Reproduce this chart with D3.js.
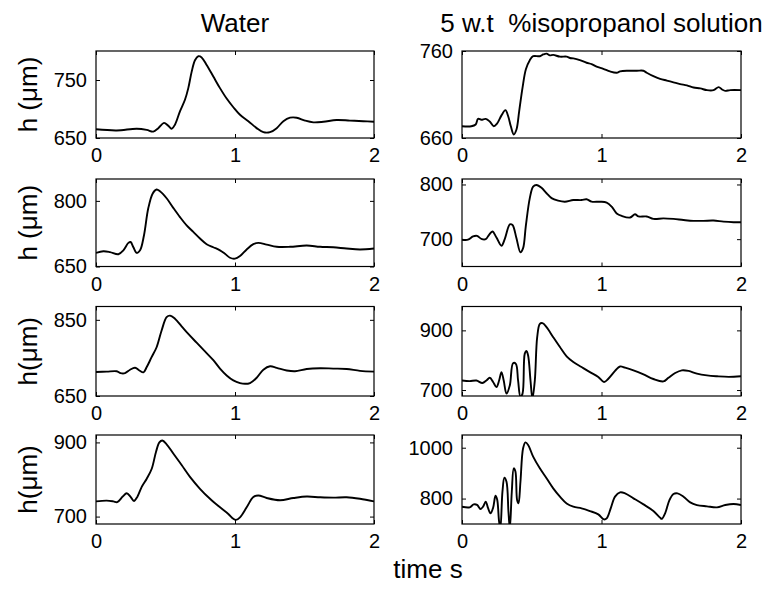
<!DOCTYPE html>
<html>
<head>
<meta charset="utf-8">
<script src="https://cdn.jsdelivr.net/npm/d3@7"></script>
<style>
  html, body { margin: 0; padding: 0; background: #fff; }
  text { font-family: "Liberation Sans", Arial, sans-serif; fill: #000; }
</style>
</head>
<body>
<svg id="chart" width="770" height="591"></svg>
<script>
// ---------- DATA ----------
const columnTitles = ["Water", "5 w.t  %isopropanol solution"];
const yLabels = ["h (\u03bcm)", "h (\u03bcm)", "h(\u03bcm)", "h(\u03bcm)"];
const xLabel = "time s";
const xTicks = [0, 1, 2];

// Water column
const tW1 = [0,.149,.293,.365,.412,.448,.489,.52,.544,.568,.604,.64,.664,.688,.712,.736,.76,.796,.844,.892,.94,.988,1.036,1.096,1.156,1.204,1.252,1.3,1.348,1.396,1.444,1.504,1.564,1.636,1.731,1.827,1.923,2.0];
const hW1 = [665,663,666,664,661,667,676,671,666,673,696,716,736,764,784,791,789,776,756,736,718,703,690,679,667,660,660,667,679,685,685,680,677,678,681,680,679,678];
const tW2 = [0,.053,.101,.161,.197,.233,.249,.269,.293,.317,.345,.376,.408,.436,.46,.508,.556,.604,.652,.7,.748,.796,.844,.892,.928,.964,1.0,1.036,1.084,1.132,1.168,1.228,1.3,1.396,1.516,1.612,1.707,1.803,1.899,2.0];
const hW2 = [681,685,683,678,687,704,706,694,681,687,721,783,817,826,822,806,784,763,744,729,714,701,694,687,679,670,668,674,689,701,704,700,695,695,698,695,694,691,689,691];
const tW3 = [0,.077,.149,.177,.209,.245,.281,.312,.341,.365,.4,.436,.472,.508,.532,.568,.616,.664,.724,.784,.844,.892,.94,.988,1.036,1.072,1.108,1.156,1.204,1.252,1.3,1.372,1.432,1.516,1.612,1.707,1.803,1.899,2.0];
const hW3 = [713,714,715,710,710,719,724,717,712,726,752,778,822,857,861,853,833,813,790,767,744,722,704,691,684,682,684,698,719,728,724,717,715,721,723,722,721,716,714];
const tW4 = [0,.077,.125,.153,.192,.221,.249,.273,.297,.329,.365,.401,.432,.456,.477,.508,.556,.616,.676,.748,.82,.892,.952,.988,1.007,1.036,1.084,1.132,1.168,1.228,1.324,1.42,1.516,1.612,1.707,1.803,1.899,2.0];
const hW4 = [741,743,741,739,754,763,753,742,753,780,802,829,875,900,905,895,870,839,807,775,748,725,707,694,691,698,725,753,757,750,744,750,754,752,751,752,748,741];

// Isopropanol column
const tI1 = [0,.067,.098,.115,.139,.17,.199,.228,.251,.283,.311,.331,.35,.371,.39,.41,.434,.458,.486,.51,.558,.582,.606,.63,.654,.702,.75,.774,.798,.845,.893,.929,.965,1.013,1.061,1.109,1.133,1.181,1.253,1.3,1.324,1.372,1.42,1.468,1.516,1.564,1.612,1.66,1.708,1.756,1.803,1.84,1.864,1.887,1.923,2.0];
const hI1 = [673.5,673.5,675.5,682,681,682,679,673.5,676.5,686,692,685,673.5,664,669.5,691,718,739,749.5,754,754,756,757,755,755.5,753.5,753.5,752,751.5,749.5,746.5,745,742,739.5,736.5,735,736.5,737.3,737.3,737.3,735,731,728,726,724,722,720.5,718,717,715,715,718.5,715.8,714.2,715,715];
const tI2 = [0,.043,.079,.108,.139,.17,.194,.218,.247,.283,.307,.343,.362,.39,.419,.438,.457,.486,.51,.534,.57,.606,.642,.689,.737,.798,.857,.893,.929,.989,1.037,1.073,1.109,1.145,1.205,1.24,1.265,1.324,1.372,1.444,1.516,1.588,1.659,1.731,1.803,1.875,1.947,2.0];
const hI2 = [699,699,705,706,700.5,700,708,714,703,688,700.5,727,726,702,676,683.5,723,775,796,799,794,784,775,770.5,768.5,771.5,771.5,773,768.5,768.5,767,759.5,747,742.5,739.5,745.5,741.5,741.5,737,738,737,735,733.5,733.5,734,732,731,731];
const tI3 = [0,.055,.103,.146,.175,.199,.223,.247,.266,.283,.299,.319,.343,.366,.386,.402,.419,.434,.45,.462,.474,.491,.505,.522,.539,.558,.577,.606,.654,.702,.75,.798,.857,.917,.977,1.018,1.049,1.097,1.133,1.169,1.229,1.301,1.372,1.444,1.48,1.528,1.576,1.624,1.684,1.756,1.828,1.912,2.0];
const hI3 = [732,730,732,723.5,732,741,727,710,732,760,732,688,716,790,788,732,677,688,822,831,816,732,671,732,877,922,924,911,877,844,813,794,777,760,744,727,738,764,779,775,766,752.5,737,729,741,757,766,764,755,749,746,744,746];
const tI4 = [0,.055,.084,.108,.132,.151,.17,.187,.204,.223,.24,.252,.266,.275,.29,.304,.319,.333,.343,.357,.371,.383,.395,.405,.419,.438,.455,.474,.51,.558,.606,.654,.702,.75,.798,.857,.917,.977,1.018,1.037,1.066,1.097,1.133,1.169,1.229,1.301,1.372,1.42,1.432,1.456,1.487,1.516,1.545,1.588,1.636,1.684,1.756,1.828,1.887,1.947,2.0];
const hI4 = [768,765.5,777,775,759,768,788,762,742,764,811,796,709,683,827,882,866,748,683,827,919,906,794,781,866,998,1021,1011,965,919,880,840,807.5,781,768,761.5,751,738,718,722,761.5,807.5,824.5,820.5,801,777,751,725,720,742,794,818,820.5,807.5,785,774.5,769.5,765.5,774.5,778.5,774.5];

const tSeries = [[tW1, tI1], [tW2, tI2], [tW3, tI3], [tW4, tI4]];
const hSeries = [[hW1, hI1], [hW2, hI2], [hW3, hI3], [hW4, hI4]];
const yDomains = [[[650, 800], [660, 760]], [[650, 850], [650, 810]], [[650, 885], [680, 980]], [[680, 920], [700, 1050]]];
const yTickValues = [[[650, 750], [660, 760]], [[650, 800], [700, 800]], [[650, 850], [700, 900]], [[700, 900], [800, 1000]]];

// ---------- LAYOUT ----------
const svg = d3.select("#chart");
const colX = [[96, 374], [462, 741]];
const rowY = [[51, 138], [179, 266.5], [306.5, 396], [435, 524]];
const tickLen = 4;
const tickFont = 20, labelFont = 26;

const clipDefs = svg.append("defs");

for (let r = 0; r < 4; r++) {
  for (let c = 0; c < 2; c++) {
    const [x0, x1] = colX[c];
    const [y0, y1] = rowY[r];
    const x = d3.scaleLinear().domain([0, 2]).range([x0, x1]);
    const y = d3.scaleLinear().domain(yDomains[r][c]).range([y1, y0]);
    const g = svg.append("g");
    const id = `clip-${r}-${c}`;
    clipDefs.append("clipPath").attr("id", id)
      .append("rect").attr("x", x0).attr("y", y0).attr("width", x1 - x0).attr("height", y1 - y0);

    const ts = tSeries[r][c], hs = hSeries[r][c];
    const pts = ts.map((t, i) => [t, hs[i]]);
    const line = d3.line().x(d => x(d[0])).y(d => y(d[1])).curve(d3.curveCatmullRom.alpha(0.5));
    g.append("path").datum(pts).attr("clip-path", `url(#${id})`)
      .attr("d", line).attr("fill", "none").attr("stroke", "#000")
      .attr("stroke-width", 1.9).attr("stroke-linejoin", "round");

    const axB = d3.axisBottom(x).tickValues(xTicks).tickSize(-tickLen).tickPadding(10).tickFormat(d3.format("d"));
    const axT = d3.axisTop(x).tickValues(xTicks).tickSize(-tickLen).tickFormat("");
    const axL = d3.axisLeft(y).tickValues(yTickValues[r][c]).tickSize(-tickLen).tickPadding(9).tickFormat(d3.format("d"));
    const axR = d3.axisRight(y).tickValues(yTickValues[r][c]).tickSize(-tickLen).tickFormat("");

    const gb = g.append("g").attr("transform", `translate(0,${y1})`).call(axB);
    const gt = g.append("g").attr("transform", `translate(0,${y0})`).call(axT);
    const gl = g.append("g").attr("transform", `translate(${x0},0)`).call(axL);
    const gr = g.append("g").attr("transform", `translate(${x1},0)`).call(axR);
    [gb, gt, gl, gr].forEach(a => {
      a.select(".domain").remove();
      a.selectAll("line").attr("stroke", "#000").attr("stroke-width", 1);
      a.selectAll("text").style("font-size", tickFont + "px")
        .style("font-family", '"Liberation Sans", Arial, sans-serif').attr("fill", "#000");
    });
    gb.selectAll("text").attr("dy", "0.71em");

    g.append("rect").attr("x", x0).attr("y", y0).attr("width", x1 - x0).attr("height", y1 - y0)
      .attr("fill", "none").attr("stroke", "#000").attr("stroke-width", 1.2);

    if (c === 0) {
      g.append("text")
        .attr("transform", `translate(37,${(y0 + y1) / 2}) rotate(-90)`)
        .attr("text-anchor", "middle")
        .style("font-size", labelFont + "px")
        .text(yLabels[r]);
    }
    if (r === 0) {
      g.append("text")
        .attr("x", (x0 + x1) / 2).attr("y", 32)
        .attr("text-anchor", "middle")
        .style("font-size", labelFont + "px")
        .style("white-space", "pre")
        .attr("xml:space", "preserve")
        .text(columnTitles[c]);
    }
  }
}

svg.append("text")
  .attr("x", 428).attr("y", 578)
  .attr("text-anchor", "middle")
  .style("font-size", labelFont + "px")
  .text(xLabel);
</script>
</body>
</html>
